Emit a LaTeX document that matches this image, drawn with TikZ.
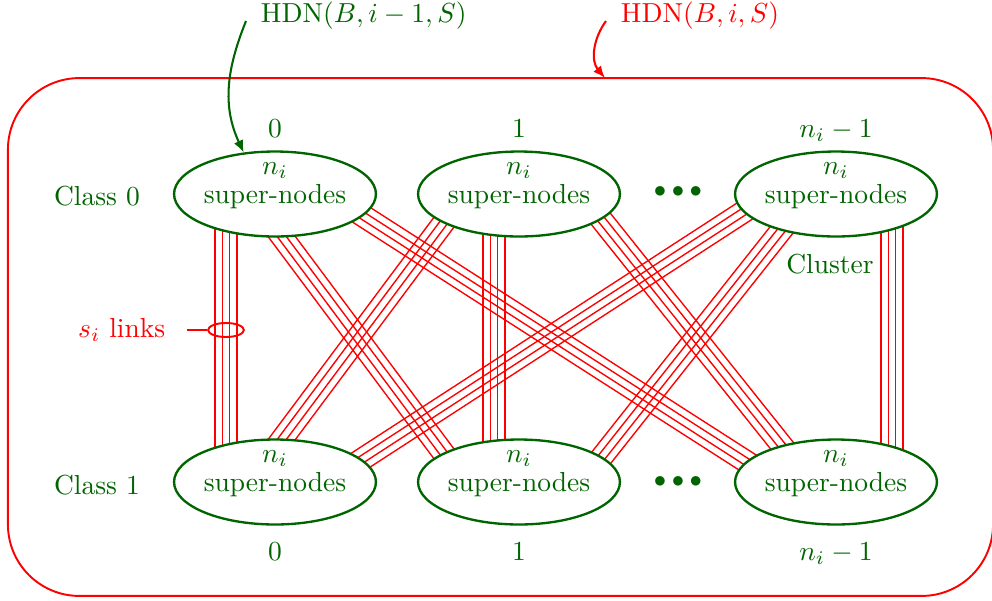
\documentclass[tikz,border=0pt]{standalone}
\usetikzlibrary{shapes.geometric,calc,arrows.meta}
\definecolor{dg}{RGB}{0,100,0}
\pgfdeclarelayer{bg}
\pgfsetlayers{bg,main}
\newcommand\drawbundle[2]{%
  \foreach \k in {-3.98pt,-1.33pt,1.33pt,3.98pt}{%
    \draw[link] ($(#1)!\k!90:(#2)$) -- ($(#2)!\k!-90:(#1)$);}}
\begin{document}
\begin{tikzpicture}[x=0.3636pt,y=0.3636pt,
  sn/.style={ellipse,draw=dg,line width=0.85pt,fill=white,minimum width=73.4pt,minimum height=30.9pt,inner sep=0pt},
  txt/.style={text=dg},
  rtxt/.style={text=red},
  link/.style={red,line width=0.5pt},
  outer/.style={draw=red,line width=0.7pt,rounded corners=26pt,minimum width=358.2pt,minimum height=188.3pt,inner sep=0pt},
  garrow/.style={dg,line width=0.75pt,-{Latex[length=4.4pt,width=3.6pt]}},
  rarrow/.style={red,line width=0.75pt,-{Latex[length=4.4pt,width=3.6pt]}},
]
\useasboundingbox (0,0) rectangle (992,-600);

% outer HDN(B,i,S) box
\node[outer] (box) at (500.5,-337) {};

% super-node clusters
\node[sn] (t0) at (275,-194) {};
\node[sn] (t1) at (519,-194) {};
\node[sn] (t2) at (836,-194) {};
\node[sn] (b0) at (275,-482) {};
\node[sn] (b1) at (519,-482) {};
\node[sn] (b2) at (836,-482) {};
\foreach \n in {t0,t1,t2,b0,b1,b2}
  \node[txt,align=center] (\n txt) at ([yshift=3pt]\n.center) {$n_i$\\[-1.5pt]super-nodes};

% link bundles (behind the clusters)
\begin{pgfonlayer}{bg}
  \coordinate (A1) at ($(t0)+(-25,0)$); \coordinate (A2) at ($(b1)+(-54,0)$);
  \coordinate (B1) at ($(t1)+(-54,0)$); \coordinate (B2) at ($(b0)+(-25,0)$);
  \coordinate (C1) at ($(t0)+(54,0)$);  \coordinate (C2) at ($(b2)+(-58,0)$);
  \coordinate (D1) at ($(t2)+(-65,0)$); \coordinate (D2) at ($(b0)+(52,0)$);
  \coordinate (E1) at ($(t1)+(62,0)$);  \coordinate (E2) at ($(b2)+(-25,0)$);
  \coordinate (F1) at ($(t2)+(-26,0)$); \coordinate (F2) at ($(b1)+(63,0)$);
  \coordinate (V01) at ($(t0)+(-49,0)$); \coordinate (V02) at ($(b0)+(-49,0)$);
  \coordinate (V11) at ($(t1)+(-25,0)$); \coordinate (V12) at ($(b1)+(-25,0)$);
  \coordinate (V21) at ($(t2)+(56,0)$);  \coordinate (V22) at ($(b2)+(56,0)$);
  \drawbundle{A1}{A2}
  \drawbundle{B1}{B2}
  \drawbundle{C1}{C2}
  \drawbundle{D1}{D2}
  \drawbundle{E1}{E2}
  \drawbundle{F1}{F2}
  \drawbundle{V01}{V02}
  \drawbundle{V11}{V12}
  \drawbundle{V21}{V22}
\end{pgfonlayer}

% index labels
\node[txt,anchor=base] (i0) at (275,-137) {0};
\node[txt,anchor=base] (i1) at (519,-137) {1};
\node[txt,anchor=base] (i2) at (836,-137) {$n_i-1$};
\node[txt,anchor=base] (j0) at (275,-560) {0};
\node[txt,anchor=base] (j1) at (519,-560) {1};
\node[txt,anchor=base] (j2) at (836,-560) {$n_i-1$};

\node[txt,anchor=base] (c0) at (97,-205) {Class 0};
\node[txt,anchor=base] (c1) at (97,-494) {Class 1};
\node[txt,anchor=base] (cl) at (830,-273) {Cluster};

\node[txt,scale=0.9] (d0) at (678,-192) {$\bullet\bullet\bullet$};
\node[txt,scale=0.9] (d1) at (678,-482) {$\bullet\bullet\bullet$};

% s_i links marker
\node[ellipse,draw=red,line width=0.7pt,minimum width=13pt,minimum height=5.1pt,inner sep=0pt] (si) at (226,-330) {};
\node[rtxt,anchor=base east] (sil) at (175,-337) {$s_i$ links};
\coordinate (sie) at (187,-330);
\draw[red,line width=0.7pt] (sie) -- (si.west);

% HDN labels and arrows
\node[txt,anchor=base west,inner sep=0.5pt] (h1) at (259,-22) {$\mathrm{HDN}(B,i-1,S)$};
\node[rtxt,anchor=base west,inner sep=0.5pt] (h2) at (619,-22) {$\mathrm{HDN}(B,i,S)$};
\coordinate (h1s) at ($(h1.base west)+(-13,1)$);
\coordinate (h2s) at ($(h2.base west)+(-13,1)$);
\coordinate (boxtop) at (605,-78);
\draw[garrow] (h1s) to[out=248,in=115] (t0.127);
\draw[rarrow] (h2s) to[out=234,in=130] (boxtop);
\end{tikzpicture}
\end{document}
